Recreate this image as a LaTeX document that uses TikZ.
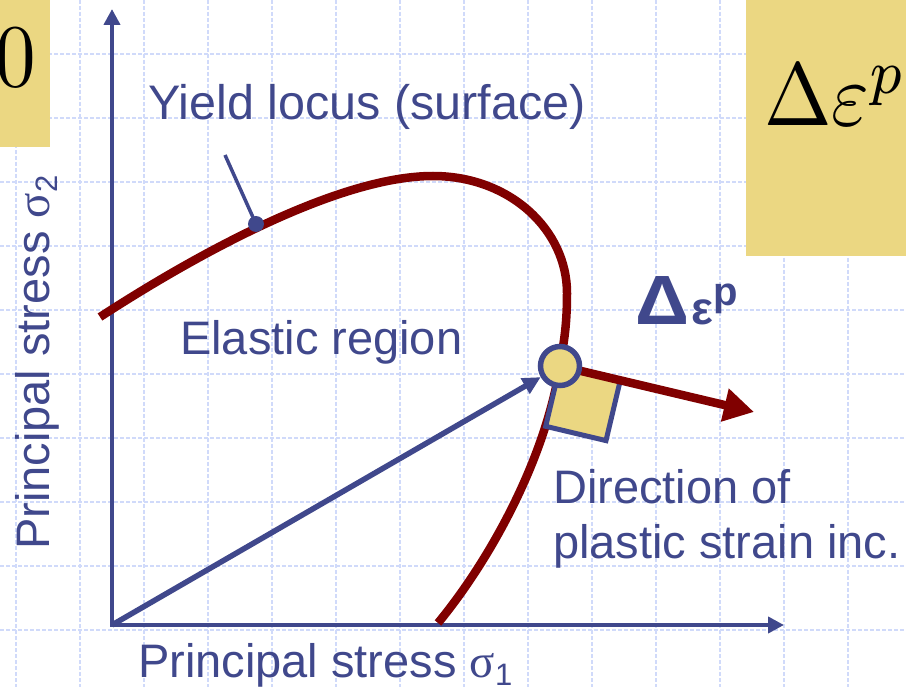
\documentclass[tikz,border=0pt]{standalone}
\usepackage[no-math]{fontspec}
\setmainfont{Liberation Sans}
\newfontfamily\greekserif{Liberation Serif}
\usepackage{graphicx}
\usetikzlibrary{arrows.meta}
\definecolor{ink}{RGB}{64,72,140}
\definecolor{locus}{RGB}{128,0,0}
\definecolor{pad}{RGB}{235,215,130}
\definecolor{gridc}{RGB}{208,218,250}
\newcommand{\sig}[1]{{\greekserif σ}\raisebox{-8pt}{\fontsize{31}{31}\selectfont #1}}
\begin{document}
\begin{tikzpicture}[x=1pt,y=-1pt,
  lbl/.style={text=ink, font=\fontsize{47}{52}\selectfont, inner sep=0pt},
  gridline/.style={draw=gridc, line width=1.2pt, dash pattern=on 4pt off 2pt},
  axisline/.style={draw=ink, line width=4.5pt, line join=miter,
    {Triangle[length=16pt,width=16pt]}-{Triangle[length=16pt,width=16pt]}},
  locusline/.style={draw=locus, line width=8.5pt},
  eqn/.style={inner sep=0pt, text=black}]
\useasboundingbox (0,0) rectangle (906,687);
\clip (0,0) rectangle (906,687);
\fill[white] (0,0) rectangle (906,687);
% background grid
\foreach \x in {16,80,...,848} \draw[gridline] (\x,0) -- (\x,687);
\foreach \y in {54,118,...,630} \draw[gridline] (0,\y) -- (906,\y);
% yellow boxes
\fill[pad] (0,0) rectangle (50,147);
\fill[pad] (746,0) rectangle (906,256);
\node[eqn, anchor=base east] (zero) at (36,87)
  {\scalebox{8.1}[8.93]{\normalsize$0$}};
\node[eqn, anchor=base west] (deps) at (764,126)
  {\scalebox{8.1}[8.93]{\normalsize$\Delta\varepsilon^{p}$}};
% axes
\coordinate (O) at (112,625);
\coordinate (ytip) at (112,9);
\coordinate (xtip) at (784,625);
\draw[axisline] (ytip) -- (O) -- (xtip);
% yield locus
\draw[locusline] (100,317) .. controls (200,252) and (340,176) .. (433,176)
  .. controls (510,176) and (567,230) .. (567,293)
  .. controls (567,330) and (563,345) .. (560,366)
  .. controls (545,460) and (490,560) .. (438,623);
% square (normal direction marker)
\filldraw[fill=pad, draw=ink, line width=5pt, line join=miter]
  (560,366) -- (620.3,380.3) -- (606,440.6) -- (545.7,426.3) -- cycle;
% plastic strain increment arrow
\coordinate (pc) at (560,366);
\coordinate (dtip) at (754,412);
\draw[locusline, -{Triangle[length=30pt,width=32pt]}] (pc) -- (dtip);
% stress point
\node[circle, fill=pad, draw=ink, line width=5.5pt, minimum size=39pt, inner sep=0pt] (P) at (pc) {};
\draw[ink, line width=5.5pt, -{Triangle[length=18pt,width=17pt]}] (O) -- (P);
% leader to the locus
\coordinate (lead) at (225,155);
\node[circle, fill=ink, minimum size=16pt, inner sep=0pt] (dot) at (256,224) {};
\draw[ink, line width=3.5pt] (lead) -- (dot.center);
% labels
\node[lbl, anchor=base west, font=\fontsize{48.5}{52}\selectfont] (yl) at (148,120) {Yield locus (surface)};
\node[lbl, anchor=base west] (er) at (180,355) {Elastic region};
\node[lbl, anchor=base west] (dir) at (553,503) {Direction of};
\node[lbl, anchor=base west] (pls) at (553,558) {plastic strain inc.};
\node[lbl, anchor=base west] (s1) at (138,677) {Principal stress \sig{1}};
\node[lbl, anchor=base west, rotate=90] (s2) at (49,550) {Principal stress \sig{2}};
\node[lbl, anchor=base west, font=\fontsize{46}{50}\selectfont\bfseries] (de) at (635,325)
  {\resizebox{54pt}{48pt}{Δ}\hspace{2pt}ε\raisebox{19pt}{\fontsize{40}{40}\selectfont p}};
\end{tikzpicture}
\end{document}
